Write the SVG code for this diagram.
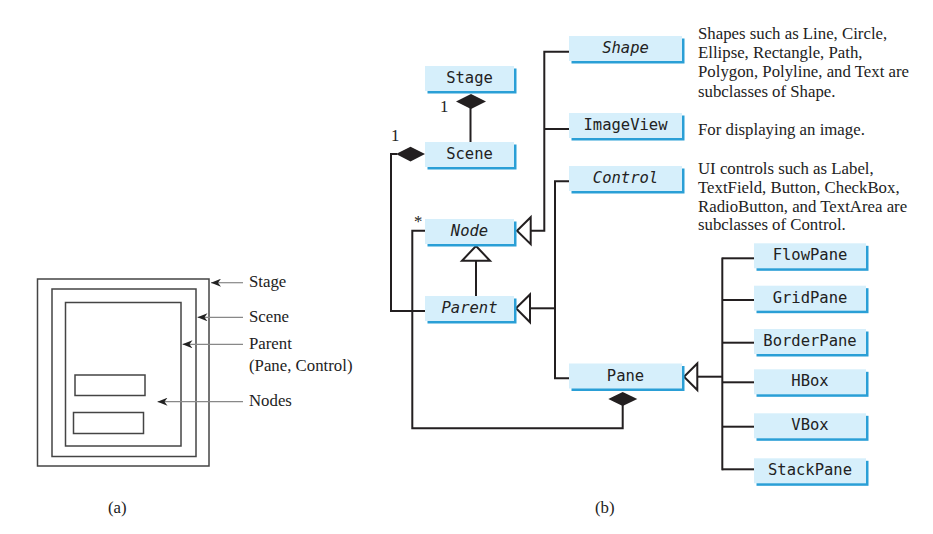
<svg xmlns="http://www.w3.org/2000/svg" width="933" height="534" viewBox="0 0 933 534">
<style>
.sh{fill:#2a9fd6}
.bx{fill:#d6effb}
.lb{font-family:"DejaVu Sans Mono","Liberation Mono",monospace;font-size:15.5px;fill:#222;text-anchor:middle}
.it{font-style:italic}
.tx{font-family:"Liberation Serif","Times New Roman",serif;font-size:16.8px;fill:#222}
.ln{fill:none;stroke:#231f20;stroke-width:2}
.hol{fill:#fff;stroke:#231f20;stroke-width:2}
.dia{fill:#231f20;stroke:none}
.fr{fill:none;stroke:#444;stroke-width:1.5}
.ar{stroke:#888;stroke-width:1.2;fill:none}
</style>
<defs>
<marker id="ah" viewBox="0 0 10 8" refX="10" refY="4" markerWidth="10" markerHeight="8" markerUnits="userSpaceOnUse" orient="auto">
<path d="M0,0 L10,4 L0,8 L3,4 Z" fill="#222"/>
</marker>
</defs>

<!-- (a) left diagram -->
<g id="diagram-a">
<rect class="fr" x="37.5" y="279" width="171.5" height="187"/>
<rect class="fr" x="52" y="289" width="144" height="167.5"/>
<rect class="fr" x="65.5" y="302.5" width="115.5" height="143.5"/>
<rect class="fr" x="75" y="375" width="70" height="20.5"/>
<rect class="fr" x="73.5" y="412.5" width="70" height="21"/>
<line class="ar" x1="243" y1="282.7" x2="211" y2="282.7" marker-end="url(#ah)"/>
<line class="ar" x1="243" y1="317.3" x2="197.5" y2="317.3" marker-end="url(#ah)"/>
<line class="ar" x1="243" y1="344.3" x2="182.5" y2="344.3" marker-end="url(#ah)"/>
<line class="ar" x1="243" y1="401.7" x2="157.5" y2="401.7" marker-end="url(#ah)"/>
<text class="tx" x="249" y="287">Stage</text>
<text class="tx" x="249" y="322">Scene</text>
<text class="tx" x="249" y="349">Parent</text>
<text class="tx" x="249" y="371">(Pane, Control)</text>
<text class="tx" x="249" y="406">Nodes</text>
<text class="tx" x="108" y="513">(a)</text>
</g>

<!-- (b) connectors -->
<g id="connectors">
<line class="ln" x1="470.5" y1="108" x2="470.5" y2="142"/>
<polygon class="dia" points="471,94 486,101.5 471,109 456,101.5"/>
<polyline class="ln" points="397,154 391,154 391,311 425,311"/>
<polygon class="dia" points="425,154 410.5,146.7 396,154 410.5,161.5"/>
<polyline class="ln" points="425,230.7 412.3,230.7 412.3,428.3 622.7,428.3 622.7,405"/>
<polygon class="dia" points="622.7,392 637.3,399 622.7,406 608.3,399"/>
<line class="ln" x1="476" y1="260" x2="476" y2="296"/>
<polygon class="hol" points="476,246 490,260.7 462,260.7"/>
<polyline class="ln" points="569,51.7 544.3,51.7 544.3,230.7 530.7,230.7"/>
<line class="ln" x1="544.3" y1="129" x2="569" y2="129"/>
<polygon class="hol" points="517,230.7 530.7,217.2 530.7,244.2"/>
<polyline class="ln" points="569,181.3 555,181.3 555,378.3 569,378.3"/>
<line class="ln" x1="555" y1="308.3" x2="530" y2="308.3"/>
<polygon class="hol" points="516,308.3 530,294.5 530,322.3"/>
<line class="ln" x1="722.3" y1="257.5" x2="722.3" y2="470.3"/>
<line class="ln" x1="722.3" y1="258.3" x2="754" y2="258.3"/>
<line class="ln" x1="722.3" y1="300" x2="754" y2="300"/>
<line class="ln" x1="722.3" y1="342.7" x2="754" y2="342.7"/>
<line class="ln" x1="722.3" y1="382.3" x2="754" y2="382.3"/>
<line class="ln" x1="722.3" y1="426.7" x2="754" y2="426.7"/>
<line class="ln" x1="722.3" y1="469.3" x2="754" y2="469.3"/>
<line class="ln" x1="697.3" y1="376.7" x2="722.3" y2="376.7"/>
<polygon class="hol" points="684,376.7 697.3,363.5 697.3,390"/>
<text class="tx" x="440" y="112">1</text>
<text class="tx" x="391" y="141">1</text>
<text class="tx" x="414" y="227">*</text>
</g>

<!-- (b) nodes -->
<g id="Stage"><rect class="sh" x="427.5" y="68.5" width="89" height="25"/><rect class="bx" x="425" y="66" width="89" height="25"/><text class="lb" x="469.5" y="83">Stage</text></g>
<g id="Scene"><rect class="sh" x="427.5" y="144.5" width="89" height="25"/><rect class="bx" x="425" y="142" width="89" height="25"/><text class="lb" x="469.5" y="159">Scene</text></g>
<g id="Node"><rect class="sh" x="427.5" y="221.5" width="89" height="25"/><rect class="bx" x="425" y="219" width="89" height="25"/><text class="lb it" x="469.5" y="236">Node</text></g>
<g id="Parent"><rect class="sh" x="427.5" y="298.5" width="89" height="25"/><rect class="bx" x="425" y="296" width="89" height="25"/><text class="lb it" x="469.5" y="313">Parent</text></g>
<g id="Shape"><rect class="sh" x="571.5" y="38.5" width="113" height="25"/><rect class="bx" x="569" y="36" width="113" height="25"/><text class="lb it" x="625.5" y="53">Shape</text></g>
<g id="ImageView"><rect class="sh" x="571.5" y="115.5" width="113" height="25"/><rect class="bx" x="569" y="113" width="113" height="25"/><text class="lb" x="625.5" y="130">ImageView</text></g>
<g id="Control"><rect class="sh" x="571.5" y="168.5" width="113" height="25"/><rect class="bx" x="569" y="166" width="113" height="25"/><text class="lb it" x="625.5" y="183">Control</text></g>
<g id="Pane"><rect class="sh" x="571.5" y="366" width="113" height="25"/><rect class="bx" x="569" y="363.5" width="113" height="25"/><text class="lb" x="625.5" y="380.5">Pane</text></g>
<g id="FlowPane"><rect class="sh" x="756.5" y="245.8" width="112" height="25"/><rect class="bx" x="754" y="243.3" width="112" height="25"/><text class="lb" x="810" y="260.3">FlowPane</text></g>
<g id="GridPane"><rect class="sh" x="756.5" y="288.2" width="112" height="25"/><rect class="bx" x="754" y="285.7" width="112" height="25"/><text class="lb" x="810" y="302.7">GridPane</text></g>
<g id="BorderPane"><rect class="sh" x="756.5" y="331.5" width="112" height="25"/><rect class="bx" x="754" y="329" width="112" height="25"/><text class="lb" x="810" y="346">BorderPane</text></g>
<g id="HBox"><rect class="sh" x="756.5" y="371.8" width="112" height="25"/><rect class="bx" x="754" y="369.3" width="112" height="25"/><text class="lb" x="810" y="386.3">HBox</text></g>
<g id="VBox"><rect class="sh" x="756.5" y="415.8" width="112" height="25"/><rect class="bx" x="754" y="413.3" width="112" height="25"/><text class="lb" x="810" y="430.3">VBox</text></g>
<g id="StackPane"><rect class="sh" x="756.5" y="460.8" width="112" height="25"/><rect class="bx" x="754" y="458.3" width="112" height="25"/><text class="lb" x="810" y="475.3">StackPane</text></g>

<!-- notes -->
<g id="notes">
<text class="tx" x="698" y="39.3">Shapes such as Line, Circle,</text>
<text class="tx" x="698" y="58.3">Ellipse, Rectangle, Path,</text>
<text class="tx" x="698" y="77.3">Polygon, Polyline, and Text are</text>
<text class="tx" x="698" y="96.5">subclasses of Shape.</text>
<text class="tx" x="698" y="135">For displaying an image.</text>
<text class="tx" x="698" y="174">UI controls such as Label,</text>
<text class="tx" x="698" y="192.8">TextField, Button, CheckBox,</text>
<text class="tx" x="698" y="211.6">RadioButton, and TextArea are</text>
<text class="tx" x="698" y="230.3">subclasses of Control.</text>
<text class="tx" x="595" y="513">(b)</text>
</g>
</svg>
